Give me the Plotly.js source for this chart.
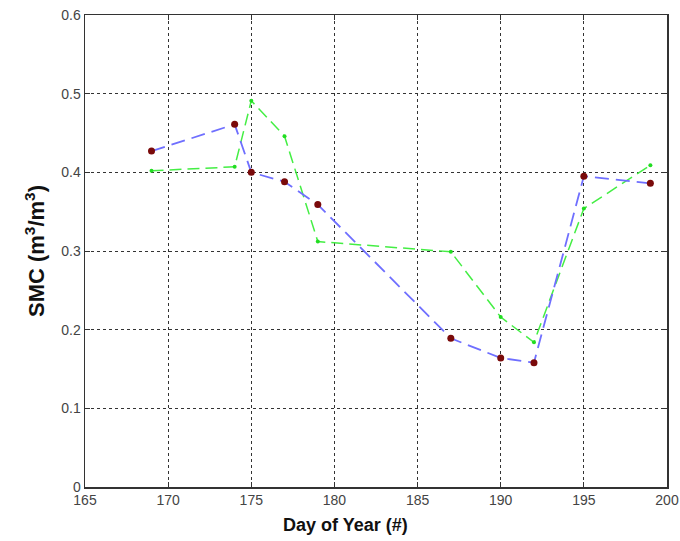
<!DOCTYPE html>
<html>
<head>
<meta charset="utf-8">
<script src="https://cdn.plot.ly/plotly-3.0.1.min.js"></script>
<style>html,body{margin:0;padding:0;background:#fff;}#chart{width:680px;height:541px;}</style>
</head>
<body>
<div id="chart"></div>
<script>
const days = [169, 174, 175, 177, 179, 187, 190, 192, 195, 199];
const smcBlue = [0.427, 0.461, 0.400, 0.388, 0.359, 0.189, 0.164, 0.158, 0.395, 0.386];
const smcGreen = [0.402, 0.407, 0.491, 0.446, 0.312, 0.299, 0.216, 0.184, 0.354, 0.409];
const xTicks = [165, 170, 175, 180, 185, 190, 195, 200];
const yTicks = [0, 0.1, 0.2, 0.3, 0.4, 0.5, 0.6];

const traces = [
  {x: days, y: smcGreen, mode: 'lines+markers', type: 'scatter',
   line: {color: '#44ee44', width: 1.5, dash: '12px,6px'},
   marker: {color: '#22dd22', size: 4}},
  {x: days, y: smcBlue, mode: 'lines+markers', type: 'scatter',
   line: {color: '#6f6fff', width: 1.8, dash: '14px,7px'},
   marker: {color: '#7a0a0a', size: 7}}
];

const axisCommon = {
  showline: true, linecolor: '#333', linewidth: 1.5, mirror: 'ticks',
  ticks: 'inside', ticklen: 5, tickcolor: '#333',
  showgrid: true, gridcolor: '#333', griddash: 'dot', gridwidth: 1,
  zeroline: false,
  tickfont: {family: 'Liberation Sans, Arial, sans-serif', size: 14, color: '#444'}
};

const layout = {
  width: 680, height: 541,
  margin: {l: 85, r: 13, t: 15, b: 54},
  showlegend: false,
  paper_bgcolor: '#fff', plot_bgcolor: '#fff',
  xaxis: Object.assign({}, axisCommon, {range: [165, 200], tickvals: xTicks, ticktext: xTicks.map(String)}),
  yaxis: Object.assign({}, axisCommon, {range: [0, 0.6], tickvals: yTicks, ticktext: yTicks.map(String),
    title: {text: '<b>SMC (m<sup>3</sup>/m<sup>3</sup>)</b>', standoff: 10,
      font: {family: 'Liberation Sans, Arial, sans-serif', size: 22, color: '#111'}}}),
  annotations: [{
    xref: 'paper', yref: 'paper', x: (345 - 85) / 582, y: -0.08, xanchor: 'center', yanchor: 'middle',
    showarrow: false, text: '<b>Day of Year (#)</b>',
    font: {family: 'Liberation Sans, Arial, sans-serif', size: 18, color: '#111'}
  }]
};

Plotly.newPlot('chart', traces, layout, {staticPlot: true, displayModeBar: false});
</script>
</body>
</html>
